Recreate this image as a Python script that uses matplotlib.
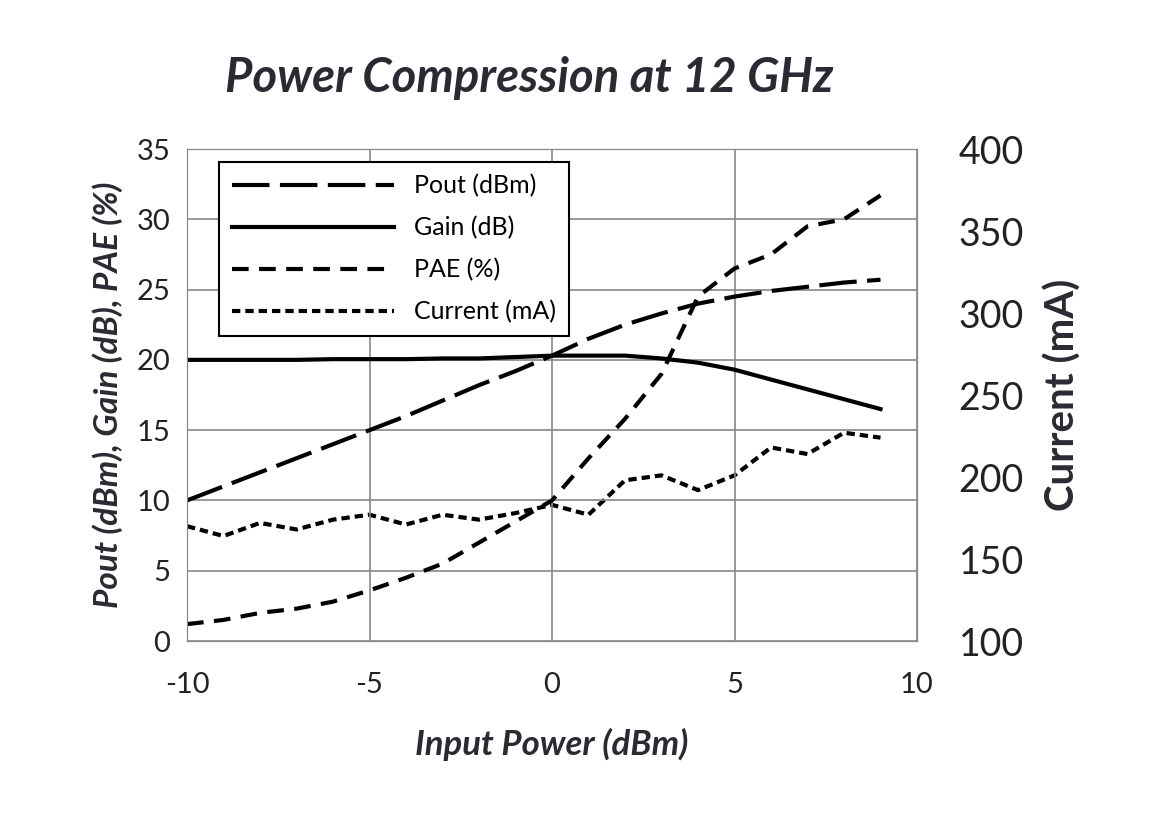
import matplotlib
matplotlib.use("Agg")
import matplotlib.pyplot as plt

x = list(range(-10, 10))
pout = [10, 11, 12, 13, 14, 15, 16, 17.1, 18.2, 19.2, 20.3, 21.5, 22.5, 23.3, 24.0, 24.5, 24.9, 25.2, 25.5, 25.7]
gain = [20.0, 20.0, 20.0, 20.0, 20.05, 20.05, 20.05, 20.1, 20.1, 20.2, 20.3, 20.3, 20.3, 20.1, 19.8, 19.3, 18.6, 17.9, 17.2, 16.5]
pae = [1.2, 1.5, 2.0, 2.3, 2.8, 3.6, 4.5, 5.5, 7.0, 8.5, 10.0, 13.0, 15.8, 19.0, 24.5, 26.5, 27.5, 29.5, 30.0, 31.7]
current = [170, 164, 172, 168, 174, 177, 171, 177, 174, 178, 183, 177, 198, 201, 192, 201, 218, 214, 227, 224]

plt.rcParams["font.family"] = "Lato"
plt.rcParams["axes.unicode_minus"] = False
fig = plt.figure(figsize=(11.55, 8.25), dpi=100)
ax = fig.add_axes([187/1155, 1-641/825, 730/1155, 492/825])
ax2 = ax.twinx()

l1, = ax.plot(x, pout, color="black", lw=3, dashes=(9, 2.5), label="Pout (dBm)")
l2, = ax.plot(x, gain, color="black", lw=3, label="Gain (dB)")
l3, = ax.plot(x, pae, color="black", lw=3, dashes=(4, 2.5), label="PAE (%)")
l4, = ax2.plot(x, current, color="black", lw=3, dashes=(2, 1.2), label="Current (mA)")

ax.set_xlim(-10, 10)
ax.set_ylim(0, 35)
ax2.set_ylim(100, 400)
ax.set_xticks([-10, -5, 0, 5, 10])
ax.set_yticks(range(0, 36, 5))
ax2.set_yticks(range(100, 401, 50))
ax.grid(True, color="#888888", lw=1.2)
for a in (ax, ax2):
    for s in a.spines.values():
        s.set_color("#888888")
ax.tick_params(axis="x", labelsize=21, length=0, pad=22, colors="#222222")
ax.tick_params(axis="y", labelsize=21, length=0, pad=12, colors="#222222")
ax2.tick_params(labelsize=27, length=0, pad=30, colors="#222222")

ax.set_xlabel("Input Power (dBm)", fontsize=25, fontstyle="italic", fontweight="bold", color="#2a2a33", labelpad=22)
ax.set_ylabel("Pout (dBm), Gain (dB), PAE (%)", fontsize=24, fontstyle="italic", fontweight="bold", color="#2a2a33", labelpad=10)
ax2.set_ylabel("Current (mA)", fontsize=29, fontweight="bold", color="#2a2a33", labelpad=14)
fig.text(0.458, 0.905, "Power Compression at 12 GHz", fontsize=34, fontstyle="italic", fontweight="bold", color="#2a2a33", ha="center", va="center")

leg = ax.legend(handles=[l1, l2, l3, l4], loc="upper left", bbox_to_anchor=(0.027, 1.0), fontsize=18, handlelength=6.5,
                fancybox=False, framealpha=1, edgecolor="black", borderpad=0.5, labelspacing=0.75, handletextpad=0.8)
leg.get_frame().set_linewidth(1.5)
ax.set_zorder(ax2.get_zorder() + 1)
ax.patch.set_visible(False)
fig.savefig("out.png", dpi=100)
